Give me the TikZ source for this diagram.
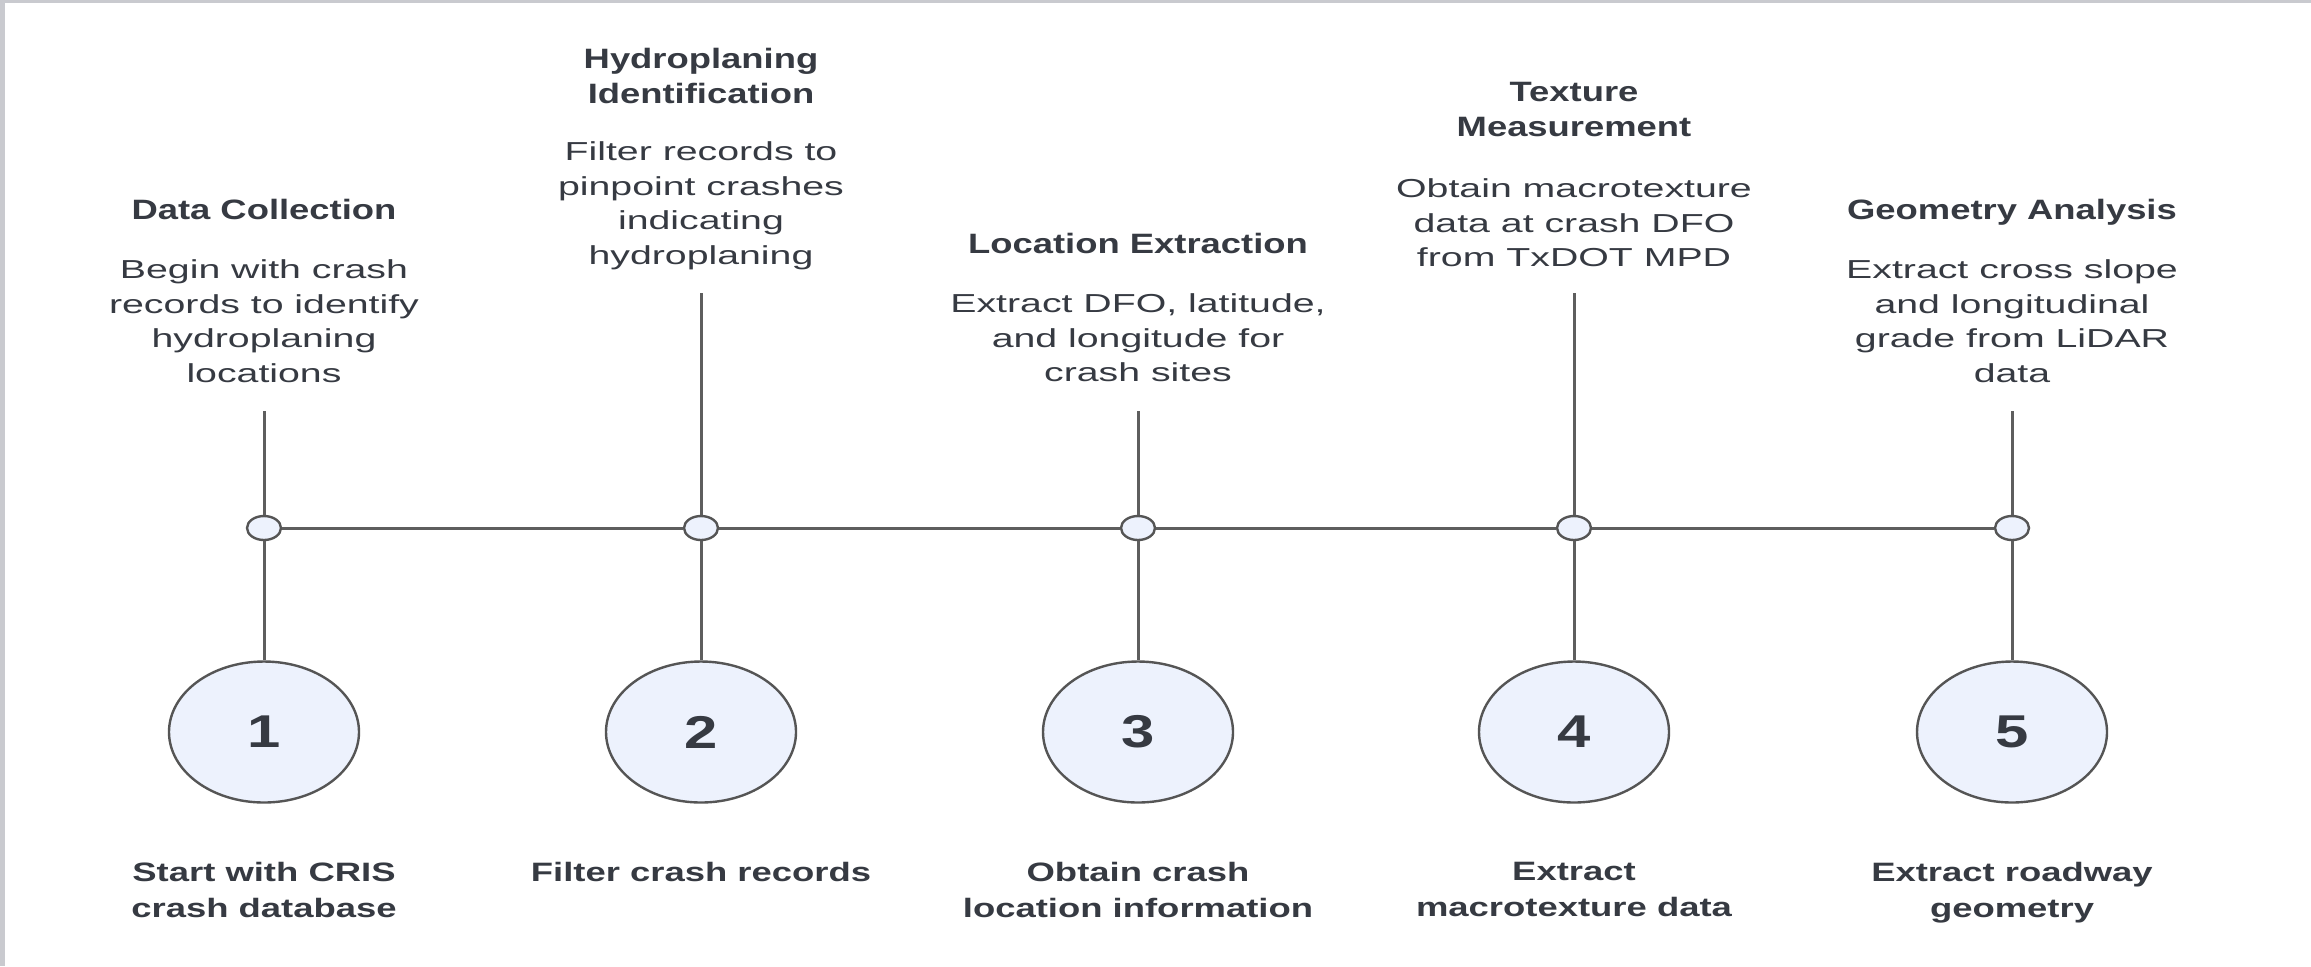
\documentclass[tikz,border=0pt]{standalone}
\usepackage{graphicx}
\usepackage{fontspec}
\setmainfont{Liberation Sans}
\usetikzlibrary{shapes.geometric}
\definecolor{txt}{HTML}{363A42}
\definecolor{ln}{HTML}{5E5E5E}
\definecolor{efill}{HTML}{EDF2FD}
\definecolor{edraw}{HTML}{555555}
\definecolor{framegray}{HTML}{C9CACF}
\begin{document}
\begin{tikzpicture}[x=0.5pt,y=-0.5pt,
  head/.style={font=\bfseries\fontsize{14}{17.5}\selectfont, text=txt, align=center, inner sep=0pt, xscale=1.3, anchor=north},
  desc/.style={font=\fontsize{13}{17.4}\selectfont, text=txt, align=center, inner sep=0pt, xscale=1.51, anchor=north},
  lab/.style={font=\bfseries\fontsize{13.3}{17.7}\selectfont, text=txt, align=center, inner sep=0pt, xscale=1.37, anchor=north},
  big/.style={ellipse, draw=edraw, fill=efill, line width=1.2pt, minimum width=95pt, minimum height=70.5pt, inner sep=0pt, text=txt, font=\bfseries\fontsize{23}{23}\selectfont},
  dot/.style={ellipse, draw=edraw, fill=efill, line width=1.2pt, minimum width=17pt, minimum height=12pt, inner sep=0pt},
  conn/.style={draw=ln, line width=1.5pt}
]
\useasboundingbox (0,0) rectangle (2311,966);
\fill[white] (0,0) rectangle (2311,966);
\fill[framegray] (0,0) rectangle (5,966);
\fill[framegray] (0,0) rectangle (2311,3);

% column 1
\coordinate (t1) at (264,411);
\node[dot] (d1) at (264,528) {};
\node[big] (c1) at (264,732) {\scalebox{1.3}[1]{1}};
\node[head] (h1) at (264,199) {Data Collection};
\node[desc] (s1) at (264,259) {Begin with crash\\records to identify\\hydroplaning\\locations};
\node[lab] (l1) at (264,862) {Start with CRIS\\crash database};

% column 2
\coordinate (t2) at (701,293);
\node[dot] (d2) at (701,528) {};
\node[big] (c2) at (701,732) {\scalebox{1.3}[1]{2}};
\node[head] (h2) at (701,48) {Hydroplaning\\Identification};
\node[desc] (s2) at (701,141) {Filter records to\\pinpoint crashes\\indicating\\hydroplaning};
\node[lab] (l2) at (701,862) {Filter crash records};

% column 3
\coordinate (t3) at (1138,411);
\node[dot] (d3) at (1138,528) {};
\node[big] (c3) at (1138,732) {\scalebox{1.3}[1]{3}};
\node[head] (h3) at (1138,233) {Location Extraction};
\node[desc] (s3) at (1138,293) {Extract DFO, latitude,\\and longitude for\\crash sites};
\node[lab] (l3) at (1138,862) {Obtain crash\\location information};

% column 4
\coordinate (t4) at (1574,293);
\node[dot] (d4) at (1574,528) {};
\node[big] (c4) at (1574,732) {\scalebox{1.3}[1]{4}};
\node[head] (h4) at (1574,82) {Texture\\Measurement};
\node[desc] (s4) at (1574,178) {Obtain macrotexture\\data at crash DFO\\from TxDOT MPD};
\node[lab] (l4) at (1574,862) {Extract\\macrotexture data};

% column 5
\coordinate (t5) at (2012,411);
\node[dot] (d5) at (2012,528) {};
\node[big] (c5) at (2012,732) {\scalebox{1.3}[1]{5}};
\node[head] (h5) at (2012,199) {Geometry Analysis};
\node[desc] (s5) at (2012,259) {Extract cross slope\\and longitudinal\\grade from LiDAR\\data};
\node[lab] (l5) at (2012,862) {Extract roadway\\geometry};

% connectors
\foreach \i in {1,...,5}{
  \draw[conn] (t\i) -- (d\i);
  \draw[conn] (d\i) -- (c\i);
}
\draw[conn] (d1) -- (d2);
\draw[conn] (d2) -- (d3);
\draw[conn] (d3) -- (d4);
\draw[conn] (d4) -- (d5);
\end{tikzpicture}
\end{document}
